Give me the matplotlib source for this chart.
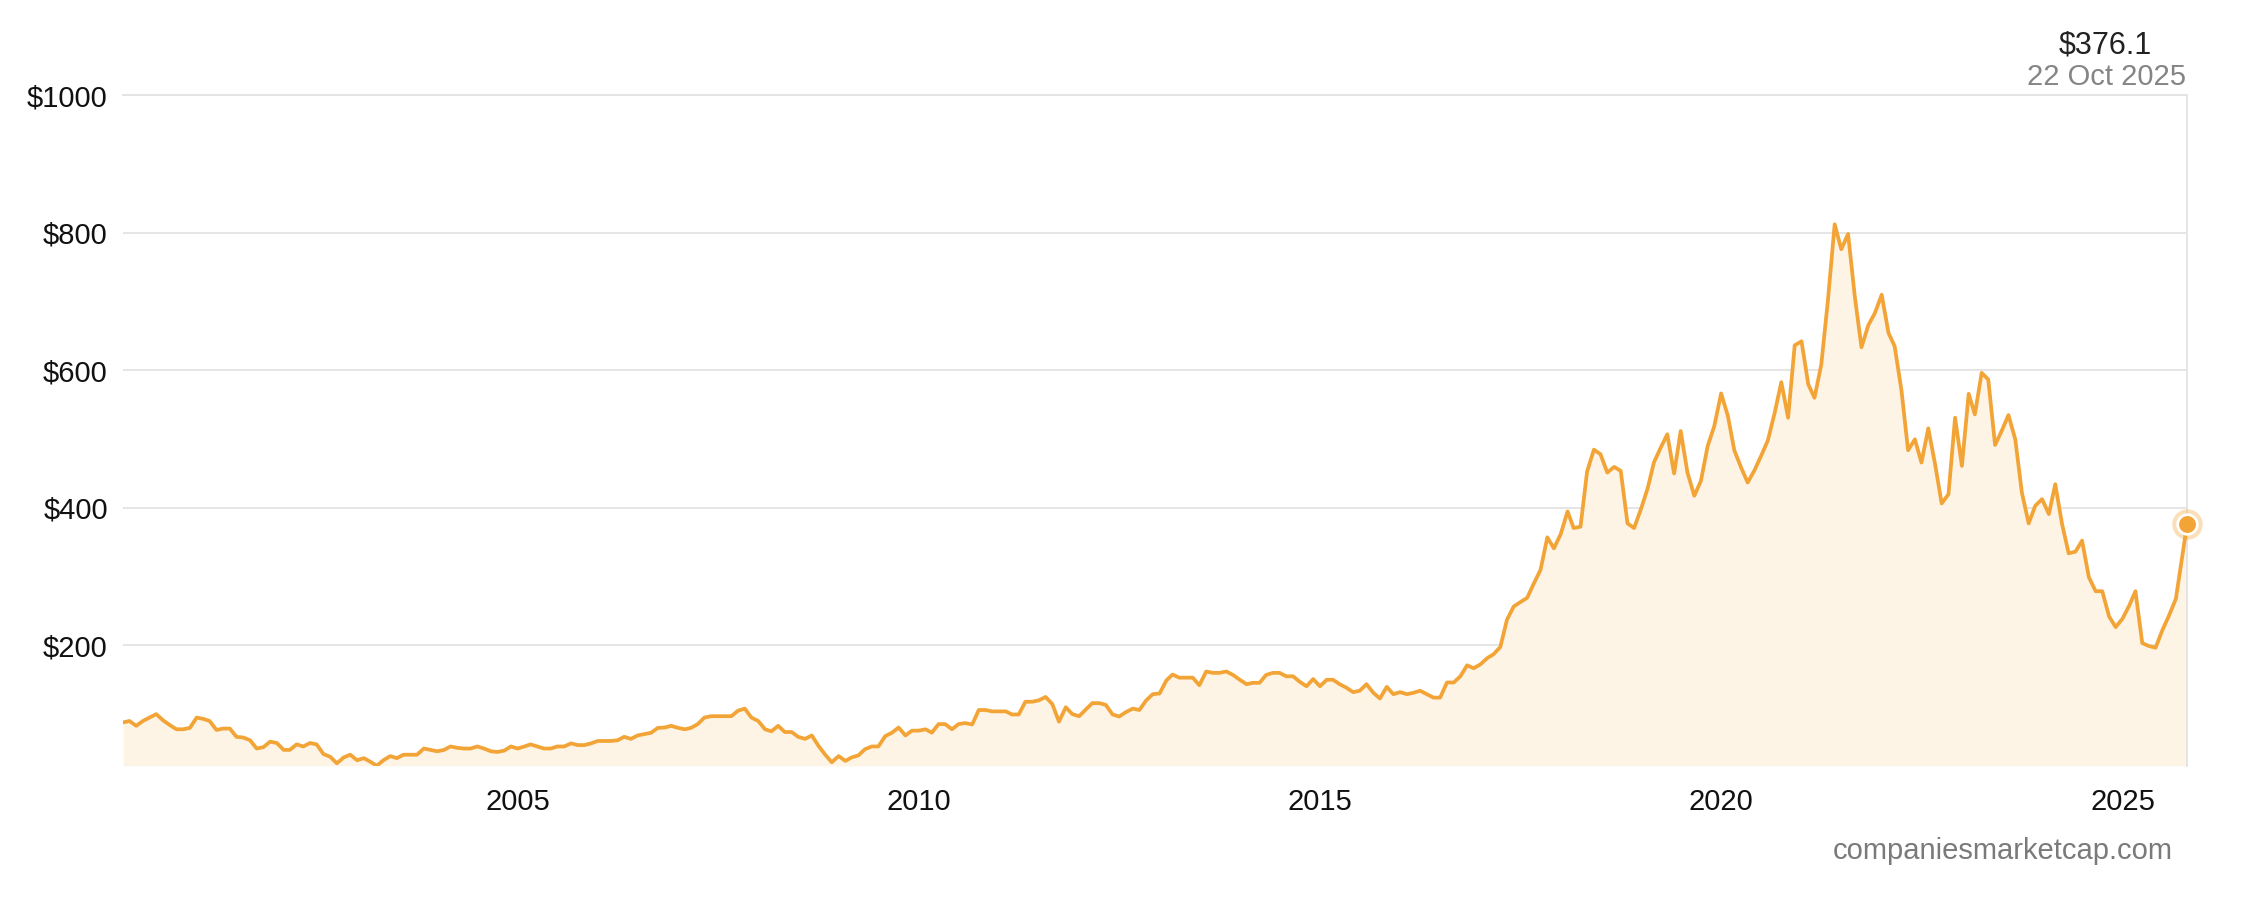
import pandas as pd
import matplotlib
matplotlib.use('Agg')
import matplotlib.pyplot as plt

# monthly closing price, Feb 2000 .. Sep 2025
price = [
    88, 90, 83, 90, 95, 100, 91, 84, 78, 78, 80, 95, 93, 90, 77, 79, 79, 67, 66, 62,
    50, 52, 60, 58, 48, 48, 56, 53, 58, 56, 42, 38, 28.5, 37, 41, 33, 36, 31, 25, 33,
    39, 36, 41, 41, 41, 50, 48, 46, 48, 53, 51, 50, 50, 53, 50, 46, 45, 47, 53, 50,
    53, 56,
    53, 50, 50, 53, 53, 57.5, 55, 55, 57.5, 61, 61, 61, 62, 67, 64, 69, 71, 73, 80, 80.5,
    83, 80, 78, 80, 85.5, 95, 97, 97, 97, 97, 105, 108, 95, 90, 78, 75, 83, 74, 74, 67,
    64, 69, 54, 41, 30, 39, 32, 37, 40, 49, 53, 53, 68, 73, 80.5, 69, 76, 76, 78, 73,
    85.5,
    85.5, 78, 85.5, 87, 85, 106, 106, 104, 104, 104, 99.5, 99.5, 118, 118, 120, 125,
    114.5, 89, 110, 100, 97, 107, 116, 116, 113.5, 99.5, 96.5, 103, 108, 106, 120, 129,
    130, 149, 157.5, 153, 153, 153, 142, 162, 160, 160, 162, 157, 150, 143.5, 145.5,
    145.5, 157, 160, 160, 155, 155, 147, 140.5, 151, 140.5, 150, 150, 143.5,
    138.5, 132, 134, 143.5, 131, 122.7, 139.6, 129, 132, 129, 131, 134, 129, 124, 124,
    146, 146, 155, 171, 166.7, 172.5, 181.6, 187, 197.6, 237, 256.5, 262.8, 269, 290.3,
    309.7, 357, 341, 361.8, 394.7, 370.5, 372.5, 452.7, 484.5, 477.8, 451.2, 459.4,
    453.6, 377.3, 370.5, 398, 428.5, 465.7, 487.4, 506.8, 449.8, 511.6, 451, 417.4, 439,
    489.9, 518.8,
    566.2, 533.3, 483.6, 458.5, 436.7, 454.6, 475.4, 498.1, 538.2, 582.6, 530.9, 636.2,
    642, 579.2, 559.9, 608.2, 701, 812.1, 775.8, 798.1, 705.8, 633.3, 665.2, 683.1,
    709.7, 654.1, 634.8, 570.5, 483.6, 499.5, 465.7, 515.5, 463.3, 406.3, 419.8, 530.9,
    460.9, 565.7, 535.7, 596.1, 586.5, 491.3, 511.6,
    534.8, 499.5, 422.2, 377.3, 402.9, 412.6, 390.8, 434.3, 376.3, 333.8, 336.2, 352.2,
    299, 278.7, 278.7, 242, 226.5, 238.7, 258, 278.7, 203.3, 199, 196.6, 221.7, 243.5,
    267.7,
]
first_month = '2000-02-01'
last_date = '2025-10-22'
last_price = 376.1
y_ticks = [200, 400, 600, 800, 1000]
x_years = [2005, 2010, 2015, 2020, 2025]

dates = list(pd.date_range(first_month, periods=len(price), freq='MS')) + [pd.Timestamp(last_date)]
values = price + [last_price]

plt.rcParams['font.family'] = ['Liberation Sans', 'DejaVu Sans']

line_color = '#f3a436'
grid_color = '#e3e3e3'

fig = plt.figure(figsize=(22.42, 9), dpi=100)
ax = fig.add_axes([0.0549, 0.1492, 0.9206, 0.7452])

ymin = min(values)
ax.fill_between(dates, values, ymin, color='#fdf4e5', lw=0, zorder=1)
ax.plot(dates, values, color=line_color, lw=2.7, zorder=3)

# last point marker with halo
ax.scatter([dates[-1]], [values[-1]], s=480, color=line_color, alpha=0.35,
           lw=0, zorder=4, clip_on=False)
ax.scatter([dates[-1]], [values[-1]], s=200, color=line_color, edgecolors='white',
           linewidths=2, zorder=5, clip_on=False)

ax.set_xlim(dates[0], dates[-1])
ax.set_ylim(ymin, 1000)

ax.set_yticks(y_ticks)
ax.set_yticklabels(['\\$%d' % v for v in y_ticks])
ax.set_xticks([pd.Timestamp('%d-01-01' % y) for y in x_years])
ax.set_xticklabels([str(y) for y in x_years])
ax.tick_params(axis='y', length=0, pad=11, labelsize=21, labelcolor='#111111')
ax.tick_params(axis='x', length=0, pad=16, labelsize=21, labelcolor='#111111')

ax.yaxis.grid(True, color=grid_color, lw=1.3, zorder=0)
ax.set_axisbelow(True)
for side in ['left', 'bottom']:
    ax.spines[side].set_visible(False)
for side in ['top', 'right']:
    ax.spines[side].set_color(grid_color)
    ax.spines[side].set_linewidth(1.3)

fig.text(2152 / 2242, 1 - 45 / 900, '\\$%.1f' % last_price, ha='right', va='center',
         fontsize=22, color='#222222')
fig.text(2186 / 2242, 1 - 77 / 900, pd.Timestamp(last_date).strftime('%d %b %Y'),
         ha='right', va='center', fontsize=21, color='#858585')
fig.text(2173 / 2242, 1 - 851 / 900, 'companiesmarketcap.com', ha='right', va='center',
         fontsize=21, color='#7a7a7a')

fig.savefig('out.png', dpi=100)
